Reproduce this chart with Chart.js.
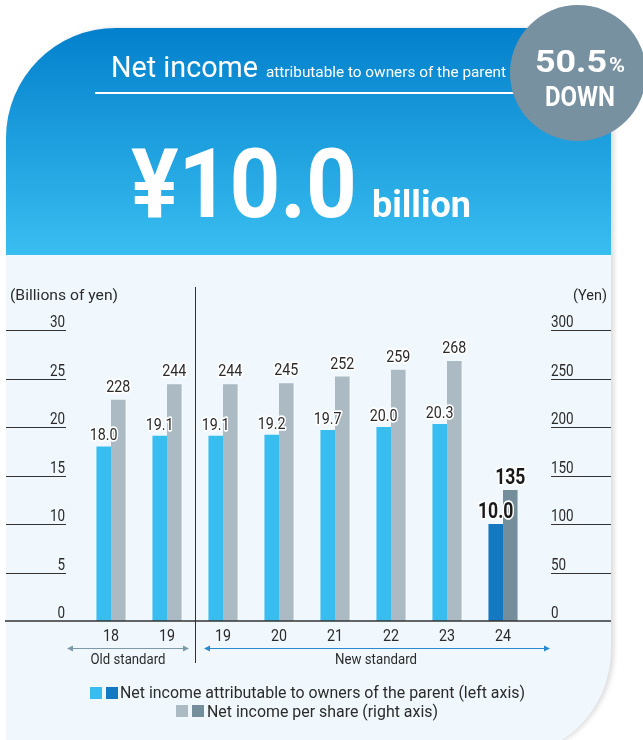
<!DOCTYPE html>
<html>
<head>
<meta charset="utf-8">
<script src="https://cdn.jsdelivr.net/npm/chart.js@4.4.1/dist/chart.umd.min.js"></script>
<style>
    html, body { margin: 0; padding: 0; background: #fff; }
    body { width: 643px; height: 740px; overflow: hidden; }
    canvas { display: block; }
</style>
</head>
<body>
<canvas id="chart" width="643" height="740"></canvas>
<script>
// Fiscal years (first two are old accounting standard)
const categories = ['18', '19', '19', '20', '21', '22', '23', '24'];
const netIncome = [18.0, 19.1, 19.1, 19.2, 19.7, 20.0, 20.3, 10.0];   // billions of yen
const perShare = [228, 244, 244, 245, 252, 259, 268, 135];             // yen
const leftTicks = [0, 5, 10, 15, 20, 25, 30];
const rightTicks = [0, 50, 100, 150, 200, 250, 300];

const FONT = 'Roboto, "DejaVu Sans", sans-serif';
const TEXT = '#2b2b2b';
const NARROW = 0.84;   // squeeze to look like the condensed original face
const last = categories.length - 1;

// draw text squeezed horizontally, either by a factor or to a given width
function txt(ctx, str, x, y, size, o) {
    o = o || {};
    ctx.save();
    ctx.font = (o.weight || 'normal') + ' ' + size + 'px ' + FONT;
    const w = ctx.measureText(str).width;
    const s = o.width ? o.width / w : (o.sx || NARROW);
    ctx.translate(x, y);
    ctx.scale(s, 1);
    ctx.textAlign = o.align || 'left';
    ctx.textBaseline = 'alphabetic';
    if (o.halo) {
        ctx.strokeStyle = '#fff';
        ctx.lineWidth = 3.5;
        ctx.lineJoin = 'round';
        ctx.strokeText(str, 0, 0);
    }
    ctx.fillStyle = o.color || TEXT;
    ctx.fillText(str, 0, 0);
    ctx.restore();
    return w * s;
}

// Card, header and badge behind the bars
const backdrop = {
    id: 'backdrop',
    beforeDraw(chart) {
        const ctx = chart.ctx;
        const x0 = 6, y0 = 28, x1 = 611, y1 = 757, rTL = 110, rBR = 107;

        ctx.save();
        ctx.beginPath();
        ctx.moveTo(x0 + rTL, y0);
        ctx.lineTo(x1, y0);
        ctx.lineTo(x1, y1 - rBR);
        ctx.arcTo(x1, y1, x1 - rBR, y1, rBR);
        ctx.lineTo(x0, y1);
        ctx.lineTo(x0, y0 + rTL);
        ctx.arcTo(x0, y0, x0 + rTL, y0, rTL);
        ctx.closePath();
        ctx.shadowColor = 'rgba(0,0,0,0.14)';
        ctx.shadowBlur = 5;
        ctx.shadowOffsetX = 3;
        ctx.fillStyle = '#f0f8fd';
        ctx.fill();
        ctx.shadowColor = 'transparent';
        ctx.clip();
        const grad = ctx.createLinearGradient(0, y0, 0, 255);
        grad.addColorStop(0, '#0380cc');
        grad.addColorStop(1, '#39bef0');
        ctx.fillStyle = grad;
        ctx.fillRect(x0, y0, x1 - x0, 255 - y0);
        ctx.restore();

        const white = '#fff';
        txt(ctx, 'Net income', 111, 77, 30, { width: 147, color: white });
        txt(ctx, 'attributable to owners of the parent', 266, 77, 15, { width: 240, color: white });
        ctx.fillStyle = white;
        ctx.fillRect(95, 92, 430, 2);
        txt(ctx, '¥10.0', 131, 217, 97, { weight: 'bold', width: 226, color: white });
        txt(ctx, 'billion', 372, 217, 36, { weight: 'bold', width: 99, color: white });

        // badge
        ctx.beginPath();
        ctx.arc(578, 73, 68, 0, Math.PI * 2);
        ctx.fillStyle = '#7891a0';
        ctx.fill();
        const w1 = txt(ctx, '50.5', 535, 72, 32, { weight: 'bold', width: 72, color: white });
        txt(ctx, '%', 535 + w1 + 2, 72, 20, { weight: 'bold', width: 16, color: white });
        txt(ctx, 'DOWN', 580, 106, 27, { weight: 'bold', width: 70, color: white, align: 'center' });
    }
};

// Axis lines, tick labels, value labels, standard arrows and legend
const overlay = {
    id: 'overlay',
    afterDatasetsDraw(chart) {
        const ctx = chart.ctx;
        const y = chart.scales.y, y1 = chart.scales.y1, x = chart.scales.x;

        txt(ctx, '(Billions of yen)', 10, 300, 15, { width: 108 });
        txt(ctx, '(Yen)', 607, 300, 15, { width: 34, align: 'right' });

        ctx.save();
        ctx.strokeStyle = '#333';
        ctx.lineWidth = 1;
        leftTicks.forEach(v => {
            const py = Math.round(y.getPixelForValue(v)) + 0.5;
            if (v !== 0) {
                ctx.beginPath(); ctx.moveTo(6, py); ctx.lineTo(66, py); ctx.stroke();
            }
            txt(ctx, String(v), 65, py - 4, 16, { align: 'right' });
        });
        rightTicks.forEach(v => {
            const py = Math.round(y1.getPixelForValue(v)) + 0.5;
            if (v !== 0) {
                ctx.beginPath(); ctx.moveTo(551, py); ctx.lineTo(611, py); ctx.stroke();
            }
            txt(ctx, String(v), 551, py - 4, 16);
        });

        const base = y.getPixelForValue(0);
        ctx.lineWidth = 1.5;
        ctx.beginPath(); ctx.moveTo(5, base); ctx.lineTo(611, base); ctx.stroke();

        // old / new standard divider
        const divX = Math.round((x.getPixelForValue(1) + x.getPixelForValue(2)) / 2) + 0.5;
        ctx.lineWidth = 1;
        ctx.beginPath(); ctx.moveTo(divX, 287); ctx.lineTo(divX, 663); ctx.stroke();
        ctx.restore();

        categories.forEach((c, i) => {
            txt(ctx, c, x.getPixelForValue(i), 641, 17, { align: 'center' });
        });

        // value labels
        [[0, netIncome], [1, perShare]].forEach(([di, values]) => {
            const meta = chart.getDatasetMeta(di);
            meta.data.forEach((bar, i) => {
                const label = di === 0 ? values[i].toFixed(1) : String(values[i]);
                if (i === last) {
                    txt(ctx, label, bar.x, bar.y - 6, 22, { weight: 'bold', align: 'center', halo: true, color: '#1a1a1a', sx: 0.8 });
                } else {
                    txt(ctx, label, bar.x, bar.y - (di === 0 ? 6 : 8), 17, { align: 'center', halo: true });
                }
            });
        });

        // standard arrows
        ctx.save();
        function arrow(xa, xb, yy, color) {
            ctx.strokeStyle = color;
            ctx.fillStyle = color;
            ctx.lineWidth = 1;
            ctx.beginPath(); ctx.moveTo(xa + 2, yy); ctx.lineTo(xb - 2, yy); ctx.stroke();
            ctx.beginPath(); ctx.moveTo(xa, yy); ctx.lineTo(xa + 6, yy - 3); ctx.lineTo(xa + 6, yy + 3); ctx.closePath(); ctx.fill();
            ctx.beginPath(); ctx.moveTo(xb, yy); ctx.lineTo(xb - 6, yy - 3); ctx.lineTo(xb - 6, yy + 3); ctx.closePath(); ctx.fill();
        }
        arrow(67, 189, 648.5, '#7d9aab');
        arrow(204, 550, 648.5, '#2a8ad0');

        // legend swatches
        ctx.fillStyle = '#38bdee'; ctx.fillRect(90, 687, 12, 12);
        ctx.fillStyle = '#1479c0'; ctx.fillRect(106, 687, 12, 12);
        ctx.fillStyle = '#abbac3'; ctx.fillRect(176, 705, 12, 12);
        ctx.fillStyle = '#758e9c'; ctx.fillRect(192, 705, 12, 12);
        ctx.restore();

        txt(ctx, 'Old standard', 128, 664, 14, { width: 75, align: 'center' });
        txt(ctx, 'New standard', 376, 664, 14, { width: 82, align: 'center' });
        txt(ctx, 'Net income attributable to owners of the parent (left axis)', 120, 698, 17, { width: 405 });
        txt(ctx, 'Net income per share (right axis)', 207, 717, 17, { width: 231 });
    }
};

new Chart(document.getElementById('chart'), {
    type: 'bar',
    data: {
        labels: categories,
        datasets: [{
            label: 'Net income attributable to owners of the parent (left axis)',
            data: netIncome,
            yAxisID: 'y',
            backgroundColor: netIncome.map((v, i) => i === last ? '#1479c0' : '#38bdee'),
            barPercentage: 1,
            categoryPercentage: 0.52
        }, {
            label: 'Net income per share (right axis)',
            data: perShare,
            yAxisID: 'y1',
            backgroundColor: perShare.map((v, i) => i === last ? '#758e9c' : '#abbac3'),
            barPercentage: 1,
            categoryPercentage: 0.52
        }]
    },
    options: {
        responsive: false,
        animation: false,
        layout: { padding: { left: 83, right: 112, top: 330, bottom: 119 } },
        plugins: { legend: { display: false }, tooltip: { enabled: false } },
        scales: {
            x: { display: false },
            y: { display: false, min: 0, max: 30 },
            y1: { display: false, min: 0, max: 300 }
        }
    },
    plugins: [backdrop, overlay]
});
</script>
</body>
</html>
